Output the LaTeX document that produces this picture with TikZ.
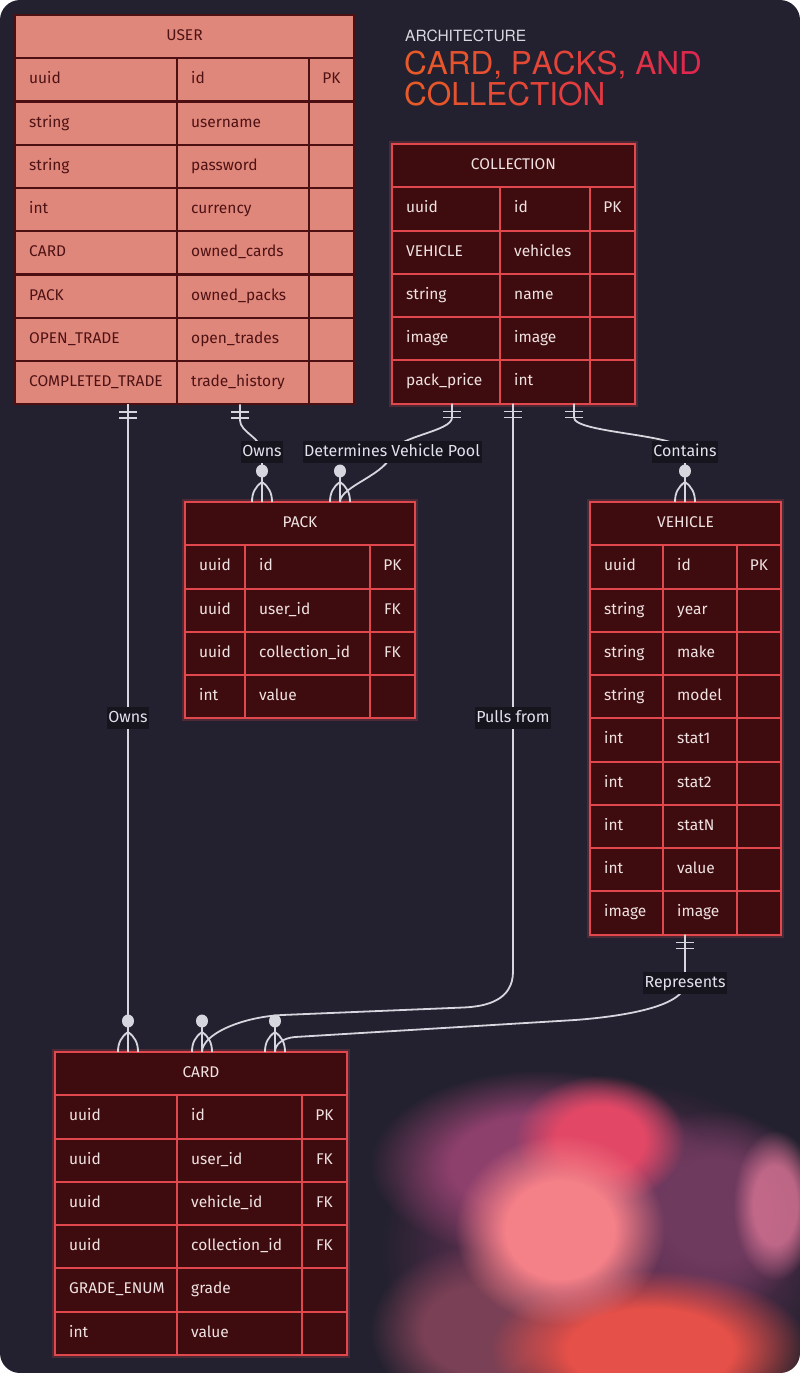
\documentclass[tikz,border=0pt]{standalone}
\usepackage{fontspec}
\newfontfamily\tabfont{Fira Sans}
\newfontfamily\titlefont{TeX Gyre Heros}
\usetikzlibrary{calc,fadings}
\definecolor{bgc}{HTML}{23212F}
\definecolor{ufill}{HTML}{E0877C}
\definecolor{uline}{HTML}{4C1012}
\definecolor{utext}{HTML}{4E1214}
\definecolor{dfill}{HTML}{3E0C0F}
\definecolor{dline}{HTML}{E0484D}
\definecolor{dtext}{HTML}{F0E2E2}
\definecolor{conncol}{HTML}{D6D6DE}
\definecolor{lblbg}{HTML}{16151E}
\definecolor{lbltext}{HTML}{E2E2EE}
\definecolor{titleL}{HTML}{E85A28}
\definecolor{titleR}{HTML}{E0284F}
\definecolor{archc}{HTML}{D8D8E0}
\definecolor{bbase}{HTML}{5E3052}
\definecolor{bpurple}{HTML}{8E406C}
\definecolor{bpurple2}{HTML}{6E3A5E}
\definecolor{bpinkedge}{HTML}{D07090}
\definecolor{bpink}{HTML}{E24866}
\definecolor{bbright}{HTML}{F48088}
\definecolor{bred}{HTML}{E55048}
\definecolor{bmauve}{HTML}{7A4055}
\pgfdeclareradialshading{blobsh}{\pgfpointorigin}{color(0bp)=(white); color(13bp)=(white); color(25bp)=(black); color(50bp)=(black)}
\tikzfading[name=softblob, shading=blobsh]
\def\rh{43.25}
\newcommand{\gcl}[2]{\textcolor{titleR!#1!titleL}{#2}}
\newcommand{\erent}[9]{%
  \pgfmathsetmacro{\eW}{#4+#5+#6}%
  \pgfmathsetmacro{\eH}{(#8+1)*\rh}%
  \node[entbox, minimum width=\eW pt, minimum height=\eH pt, anchor=north west, inner sep=0pt, outer sep=0pt] (#1) at (#2,#3) {};
  \node[enttxt, anchor=center] (#1-title) at (#2+\eW/2, #3+\rh/2) {#7};
  \foreach \ca/\cb/\cc [count=\ci] in {#9} {%
    \draw[entln] (#2, #3+\ci*\rh) -- ++(\eW,0);
    \node[enttxt, anchor=west] (#1-\ci-a) at (#2+14, #3+\ci*\rh+\rh/2) {\ca};
    \node[enttxt, anchor=west] (#1-\ci-b) at (#2+#4+14, #3+\ci*\rh+\rh/2) {\cb};
    \node[enttxt, anchor=center] (#1-\ci-c) at (#2+#4+#5+#6/2, #3+\ci*\rh+\rh/2) {\cc};
  }
  \draw[entln] (#2+#4, #3+\rh) -- (#2+#4, #3+\eH);
  \draw[entln] (#2+#4+#5, #3+\rh) -- (#2+#4+#5, #3+\eH);
}
\newcommand{\onebar}[1]{%
  \draw[conn] ($(#1)+(-9,8)$) -- ++(18,0);
  \draw[conn] ($(#1)+(-9,14)$) -- ++(18,0);
}
\newcommand{\zmany}[1]{%
  \fill[conncol] ($(#1)+(0,-31)$) ellipse [x radius=6pt, y radius=6.5pt];
  \draw[conn] ($(#1)+(0,-20)$) .. controls +(-7,5) and +(0,-9) .. ($(#1)+(-10,0)$);
  \draw[conn] ($(#1)+(0,-20)$) .. controls +(7,5) and +(0,-9) .. ($(#1)+(10,0)$);
  \draw[conn] ($(#1)+(0,-25)$) -- (#1);
}
\tikzset{
  userbox/.style={draw=uline, fill=ufill, line width=2.4pt},
  usertxt/.style={text=utext, font=\tabfont\fontsize{15.5}{17}\selectfont, inner sep=0pt, text height=11pt, text depth=3pt},
  userln/.style={draw=uline, line width=2.4pt},
  darkbox/.style={draw=dline, fill=dfill, line width=2pt, preaction={draw=dline, draw opacity=0.22, line width=6pt}},
  darktxt/.style={text=dtext, font=\tabfont\fontsize{15.5}{17}\selectfont, inner sep=0pt, text height=11pt, text depth=3pt},
  darkln/.style={draw=dline, line width=2pt},
  conn/.style={draw=conncol, line width=1.8pt},
  lbl/.style={fill=lblbg, text=lbltext, font=\tabfont\fontsize{16}{18}\selectfont, inner xsep=1.5pt, inner ysep=4pt, text height=11pt, text depth=3pt},
  blob/.style={path fading=softblob}
}
\begin{document}
\begin{tikzpicture}[x=1pt, y=-1pt]
\useasboundingbox (0,0) rectangle (800,1373);
\fill[bgc, rounded corners=20pt] (0,0) rectangle (800,1373);
% blurred blob
\begin{scope}
\clip[rounded corners=20pt] (0,0) rectangle (800,1373);
\fill[bbase, blob] (610,1250) ellipse [x radius=230pt, y radius=170pt];
\fill[bpurple, blob] (540,1165) ellipse [x radius=170pt, y radius=95pt];
\fill[bpurple2, blob] (715,1210) ellipse [x radius=105pt, y radius=100pt];
\fill[bpinkedge, blob, fill opacity=0.85] (775,1205) ellipse [x radius=42pt, y radius=75pt];
\fill[bmauve, blob] (480,1330) ellipse [x radius=110pt, y radius=85pt];
\fill[bpink, blob] (600,1140) ellipse [x radius=85pt, y radius=65pt];
\fill[bred, blob] (650,1350) ellipse [x radius=160pt, y radius=80pt];
\fill[bbright, blob] (560,1230) ellipse [x radius=105pt, y radius=95pt];
\end{scope}
% title
\node[anchor=base west, inner sep=0pt, text=archc, font=\titlefont\fontsize{15.5}{16}\selectfont] (tarch) at (405,41) {ARCHITECTURE};
\node[anchor=base west, inner sep=0pt, font=\titlefont\fontsize{31.5}{32}\selectfont] (tline1) at (404,74)
  {\gcl{0}{C}\gcl{7}{A}\gcl{13}{R}\gcl{20}{D}\gcl{27}{,} \gcl{33}{P}\gcl{40}{A}\gcl{47}{C}\gcl{53}{K}\gcl{60}{S}\gcl{67}{,} \gcl{80}{A}\gcl{90}{N}\gcl{100}{D}};
\node[anchor=base west, inner sep=0pt, font=\titlefont\fontsize{31.5}{32}\selectfont] (tline2) at (404,105)
  {\gcl{0}{C}\gcl{8}{O}\gcl{16}{L}\gcl{23}{L}\gcl{30}{E}\gcl{38}{C}\gcl{46}{T}\gcl{52}{I}\gcl{58}{O}\gcl{66}{N}};
% entities
\tikzset{entbox/.style=userbox, enttxt/.style=usertxt, entln/.style=userln}
\erent{user}{15}{15}{162}{132}{45}{USER}{8}{uuid/id/PK, string/username/{}, string/password/{}, int/currency/{}, CARD/owned\_cards/{}, PACK/owned\_packs/{}, OPEN\_TRADE/open\_trades/{}, COMPLETED\_TRADE/trade\_history/{}}
\tikzset{entbox/.style=darkbox, enttxt/.style=darktxt, entln/.style=darkln}
\erent{collection}{392}{144}{108}{90}{45}{COLLECTION}{5}{uuid/id/PK, VEHICLE/vehicles/{}, string/name/{}, image/image/{}, pack\_price/int/{}}
\erent{pack}{185}{502}{60}{125}{45}{PACK}{4}{uuid/id/PK, uuid/user\_id/FK, uuid/collection\_id/FK, int/value/{}}
\erent{vehicle}{590}{502}{73}{74}{44}{VEHICLE}{9}{uuid/id/PK, string/year/{}, string/make/{}, string/model/{}, int/stat1/{}, int/stat2/{}, int/statN/{}, int/value/{}, image/image/{}}
\erent{card}{55}{1052}{122}{125}{45}{CARD}{6}{uuid/id/PK, uuid/user\_id/FK, uuid/vehicle\_id/FK, uuid/collection\_id/FK, GRADE\_ENUM/grade/{}, int/value/{}}
% connector end points
\coordinate (u1) at ($(user.south west)+(113,0)$);
\coordinate (u2) at ($(user.south west)+(225,0)$);
\coordinate (c1) at ($(card.north west)+(73,0)$);
\coordinate (c2) at ($(card.north west)+(147,0)$);
\coordinate (c3) at ($(card.north west)+(220,0)$);
\coordinate (col1) at ($(collection.south west)+(60,0)$);
\coordinate (col2) at ($(collection.south west)+(121,0)$);
\coordinate (col3) at ($(collection.south west)+(182,0)$);
\coordinate (p1) at ($(pack.north west)+(77,0)$);
\coordinate (p2) at ($(pack.north west)+(155,0)$);
\coordinate (v1) at ($(vehicle.north west)+(95,0)$);
\coordinate (v2) at ($(vehicle.south west)+(95,0)$);
\coordinate (lo1) at (128,718);
\coordinate (lo2) at (262,452);
\coordinate (ldet) at (392,452);
\coordinate (lcon) at (685,452);
\coordinate (lpul) at (513,718);
\coordinate (lrep) at (685,983);
% connectors
\draw[conn] (u1) -- (c1);
\draw[conn] (u2) -- ++(0,16) .. controls +(0,12) and +(0,-14) .. (lo2) -- (p1);
\draw[conn] (col1) -- ++(0,14) .. controls +(0,14) and +(6,-16) .. (ldet) .. controls +(-3,22) and +(0,-16) .. (p2);
\draw[conn] (col3) -- ++(0,14) .. controls +(0,16) and +(0,-18) .. (lcon) -- (v1);
\draw[conn] (col2) -- ($(col2)+(0,568)$) .. controls +(0,28) and +(25,-1) .. ($(col2)+(-50,604)$) -- ($(c2)+(80,-37)$) .. controls +(-40,2) and +(0,-18) .. (c2);
\draw[conn] (v2) -- (lrep) .. controls +(0,25) and +(40,-3) .. ($(c3)+(300,-32)$) -- ($(c3)+(20,-15)$) .. controls +(-12,1) and +(0,-8) .. (c3);
% markers
\onebar{u1}\onebar{u2}\onebar{col1}\onebar{col2}\onebar{col3}\onebar{v2}
\zmany{c1}\zmany{c2}\zmany{c3}\zmany{p1}\zmany{p2}\zmany{v1}
% labels
\node[lbl] (Lowns1) at (lo1) {Owns};
\node[lbl] (Lowns2) at (lo2) {Owns};
\node[lbl] (Ldet) at (ldet) {Determines Vehicle Pool};
\node[lbl] (Lcon) at (lcon) {Contains};
\node[lbl] (Lpul) at (lpul) {Pulls from};
\node[lbl] (Lrep) at (lrep) {Represents};
\end{tikzpicture}
\end{document}
